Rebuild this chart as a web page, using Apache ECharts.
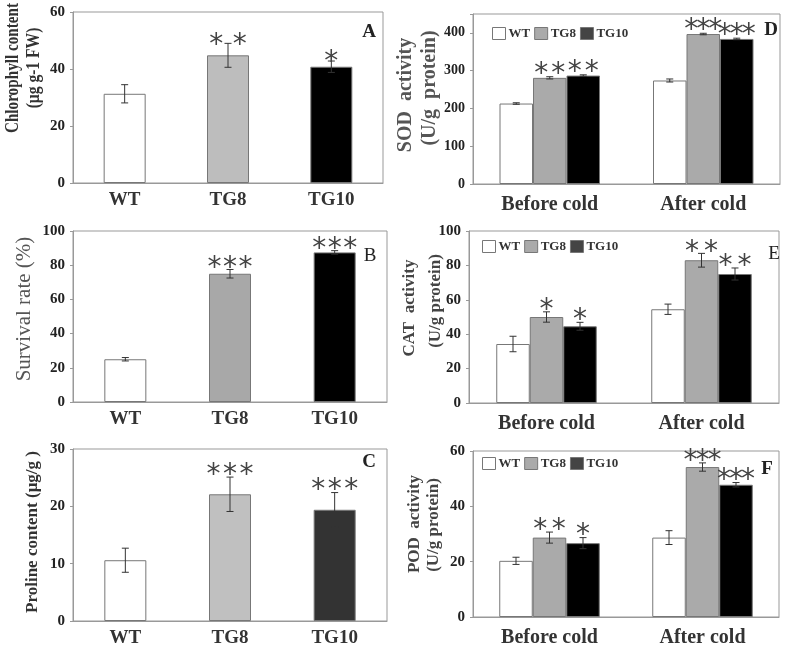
<!DOCTYPE html>
<html><head><meta charset="utf-8">
<script src="https://cdn.jsdelivr.net/npm/echarts@6/dist/echarts.min.js"></script>
<style>html,body{margin:0;padding:0;background:#fff}#c{width:787px;height:648px}</style>
</head><body><div id="c"></div>
<script>
// ---------- DATA ----------
const lines = ['WT', 'TG8', 'TG10'];
const conditions = ['Before cold', 'After cold'];

const chlorophyll = [31.3, 44.8, 40.8];
const chlorophyllErr = [3.2, 4.2, 2.0];
const chlorophyllStars = ['', '**', '*'];
const chlorophyllTicks = [0, 20, 40, 60];

const survival = [25, 75, 87.5];
const survivalErr = [1, 2.5, 1];
const survivalStars = ['', '***', '***'];
const survivalTicks = [0, 20, 40, 60, 80, 100];

const proline = [10.6, 22.1, 19.4];
const prolineErr = [2.1, 3.0, 3.0];
const prolineStars = ['', '***', '***'];
const prolineTicks = [0, 10, 20, 30];

const sodWT = [213, 274], sodTG8 = [281, 397], sodTG10 = [287, 384];
const sodErrWT = [2, 4], sodErrTG8 = [3, 2], sodErrTG10 = [2, 2];
const sodStarsWT = ['', ''], sodStarsTG8 = ['**', '***'], sodStarsTG10 = ['**', '***'];
const sodTicks = [0, 100, 200, 300, 400];

const catWT = [34.3, 54.5], catTG8 = [50, 83], catTG10 = [44.6, 75];
const catErrWT = [4.5, 3], catErrTG8 = [3, 4], catErrTG10 = [2.3, 3.5];
const catStarsWT = ['', ''], catStarsTG8 = ['*', '**'], catStarsTG10 = ['*', '**'];
const catTicks = [0, 20, 40, 60, 80, 100];

const podWT = [20.3, 28.7], podTG8 = [28.7, 54.2], podTG10 = [26.7, 47.8];
const podErrWT = [1.3, 2.5], podErrTG8 = [2, 1.5], podErrTG10 = [2, 0.8];
const podStarsWT = ['', ''], podStarsTG8 = ['**', '***'], podStarsTG10 = ['*', '***'];
const podTicks = [0, 20, 40, 60];

// ---------- STYLE / LAYOUT ----------
const SERIF = '"Liberation Serif", "Times New Roman", serif';
const grids = [
  {left: 73, top: 12, width: 310, height: 171},   // A
  {left: 73, top: 231, width: 314, height: 171},  // B
  {left: 73, top: 449, width: 314, height: 173},  // C
  {left: 473, top: 14, width: 307, height: 170},  // D
  {left: 469, top: 231, width: 310, height: 172}, // E
  {left: 473, top: 451, width: 306, height: 172}  // F
];
const axisMax = [60, 100, 30, 450, 100, 60];
const leftColors = [
  ['#ffffff', '#bdbdbd', '#000000'],
  ['#ffffff', '#a8a8a8', '#000000'],
  ['#ffffff', '#c0c0c0', '#333333']
];
const groupColors = {WT: '#ffffff', TG8: '#aaaaaa', TG10: '#000000'};
const legendColors = {WT: '#ffffff', TG8: '#aaaaaa', TG10: '#444444'};
const tickFont = [15, 15, 15, 14, 15, 15];
const STAR_FS = 28;

function errRenderer(offsetPx, stars, spacing, gap) {
  return function (params, api) {
    const i = params.dataIndex;
    const c = api.value(0), v = api.value(1), e = api.value(2);
    const top = api.coord([c, v + e]);
    const bot = api.coord([c, v - e]);
    const x = top[0] + offsetPx;
    const stroke = {stroke: '#333', lineWidth: 1};
    const children = [
      {type: 'line', shape: {x1: x, y1: top[1], x2: x, y2: bot[1]}, style: stroke},
      {type: 'line', shape: {x1: x - 3.5, y1: top[1], x2: x + 3.5, y2: top[1]}, style: stroke},
      {type: 'line', shape: {x1: x - 3.5, y1: bot[1], x2: x + 3.5, y2: bot[1]}, style: stroke}
    ];
    const s = stars[i] || '';
    const n = s.length;
    const sp = Array.isArray(spacing) ? spacing[i] : spacing;
    for (let k = 0; k < n; k++) {
      children.push({
        type: 'text',
        style: {
          text: s[k], x: x + (k - (n - 1) / 2) * sp, y: top[1] - gap + 0.21 * STAR_FS,
          align: 'center', verticalAlign: 'middle', fill: '#444',
          fontSize: STAR_FS, fontFamily: '"DejaVu Sans", sans-serif'
        }
      });
    }
    return {type: 'group', children: children};
  };
}

const xAxis = [], yAxis = [], series = [];
const singles = [
  [chlorophyll, chlorophyllErr, chlorophyllStars, chlorophyllTicks, 23.5, 4],
  [survival, survivalErr, survivalStars, survivalTicks, 15.5, 7],
  [proline, prolineErr, prolineStars, prolineTicks, 16.5, 7.5]
];
const groups = [
  [[sodWT, sodTG8, sodTG10], [sodErrWT, sodErrTG8, sodErrTG10], [sodStarsWT, sodStarsTG8, sodStarsTG10], sodTicks, [17, 12], 8],
  [[catWT, catTG8, catTG10], [catErrWT, catErrTG8, catErrTG10], [catStarsWT, catStarsTG8, catStarsTG10], catTicks, [20, 19], 7],
  [[podWT, podTG8, podTG10], [podErrWT, podErrTG8, podErrTG10], [podStarsWT, podStarsTG8, podStarsTG10], podTicks, [18.5, 12], 7.5]
];

function addAxes(gi, cats, ticks) {
  xAxis.push({
    type: 'category', gridIndex: gi, data: cats,
    axisLine: {lineStyle: {color: '#999'}}, axisTick: {show: false},
    axisLabel: {fontFamily: SERIF, fontWeight: 'bold', fontSize: gi < 3 ? 19 : 20, color: '#333', margin: gi < 3 ? 8 : 11}
  });
  yAxis.push({
    type: 'value', gridIndex: gi, min: ticks[0], max: axisMax[gi], interval: ticks[1] - ticks[0],
    splitLine: {show: false},
    axisLine: {show: true, lineStyle: {color: '#999'}},
    axisTick: {show: true, length: 3, lineStyle: {color: '#999'}},
    axisLabel: {
      fontFamily: SERIF, fontWeight: 'bold', fontSize: tickFont[gi], color: '#222', margin: 8,
      formatter: function (v) { return ticks.indexOf(v) >= 0 ? String(v) : ''; }
    }
  });
}

singles.forEach(function (p, gi) {
  const [vals, errs, stars, ticks, sp, gap] = p;
  addAxes(gi, lines, ticks);
  series.push({
    type: 'bar', name: 'panel' + gi, xAxisIndex: gi, yAxisIndex: gi, barWidth: 42,
    data: vals.map(function (v, i) {
      return {value: v, itemStyle: {color: leftColors[gi][i], borderColor: '#777', borderWidth: 1}};
    })
  });
  series.push({
    type: 'custom', name: 'err' + gi, xAxisIndex: gi, yAxisIndex: gi, clip: false, z: 5,
    renderItem: errRenderer(0, stars, sp, gap),
    data: vals.map(function (v, i) { return [i, v, errs[i]]; })
  });
});

const BW = 33.5;
groups.forEach(function (p, k) {
  const gi = k + 3;
  const [vals, errs, stars, ticks, sp, gap] = p;
  addAxes(gi, conditions, ticks);
  lines.forEach(function (name, s) {
    series.push({
      type: 'bar', name: name, xAxisIndex: gi, yAxisIndex: gi, barWidth: BW, barGap: '0%',
      itemStyle: {color: groupColors[name], borderColor: '#777', borderWidth: 1},
      data: vals[s]
    });
  });
  lines.forEach(function (name, s) {
    series.push({
      type: 'custom', name: 'err' + gi + '_' + s, xAxisIndex: gi, yAxisIndex: gi, clip: false, z: 5,
      renderItem: errRenderer((s - 1) * BW, stars[s], sp, gap),
      data: vals[s].map(function (v, i) { return [i, v, errs[s][i]]; })
    });
  });
});

const legendPos = [[492, 27], [482, 240], [482, 457]];
const legend = legendPos.map(function (pos) {
  return {
    left: pos[0], top: pos[1], itemWidth: 13, itemHeight: 12, itemGap: 4, icon: 'rect',
    selectedMode: false, padding: 0,
    textStyle: {fontFamily: SERIF, fontWeight: 'bold', fontSize: 13, color: '#333', padding: [0, 0, 0, -2]},
    data: lines.map(function (n) {
      return {name: n, itemStyle: {color: legendColors[n], borderColor: '#777', borderWidth: 1}};
    })
  };
});

function ytitle(text, x, y, fs, weight, color, sx) {
  return {
    type: 'text', x: x, y: y, rotation: Math.PI / 2, scaleX: sx || 1,
    style: {text: text, align: 'center', verticalAlign: 'middle', fill: color,
      fontFamily: SERIF, fontWeight: weight, fontSize: fs}
  };
}
function letter(text, x, y, weight) {
  return {
    type: 'text', x: x, y: y,
    style: {text: text, align: 'center', verticalAlign: 'middle', fill: '#222',
      fontFamily: SERIF, fontWeight: weight, fontSize: 19}
  };
}

const graphic = [
  ytitle('Chlorophyll content', 13, 68, 19, 'bold', '#333', 0.8),
  ytitle('(μg g-1 FW)', 34, 68, 19, 'bold', '#333', 0.82),
  ytitle('Survival rate (%)', 24, 309, 21, 'normal', '#555'),
  ytitle('Proline content (μg/g )', 33, 532, 17, 'bold', '#333'),
  ytitle('SOD  activity', 406, 95, 20, 'bold', '#555'),
  ytitle('(U/g  protein)', 430, 88, 20, 'bold', '#555'),
  ytitle('CAT  activity', 410, 308, 17, 'bold', '#444'),
  ytitle('(U/g protein)', 436, 301, 17, 'bold', '#444'),
  ytitle('POD  activity', 415, 524, 17, 'bold', '#444'),
  ytitle('(U/g protein)', 434, 525, 17, 'bold', '#444'),
  letter('A', 369, 32, 'bold'),
  letter('B', 370, 256, 'normal'),
  letter('C', 369, 462, 'bold'),
  letter('D', 771, 30, 'bold'),
  letter('E', 774, 254, 'normal'),
  letter('F', 767, 469, 'bold')
];

const chart = echarts.init(document.getElementById('c'), null, {renderer: 'canvas'});
chart.setOption({
  animation: false,
  backgroundColor: '#fff',
  grid: grids.map(function (g) { return Object.assign({show: true, borderColor: '#999', borderWidth: 1, backgroundColor: 'transparent', containLabel: false}, g); }),
  xAxis: xAxis, yAxis: yAxis, series: series, legend: legend, graphic: graphic
});
</script></body></html>
